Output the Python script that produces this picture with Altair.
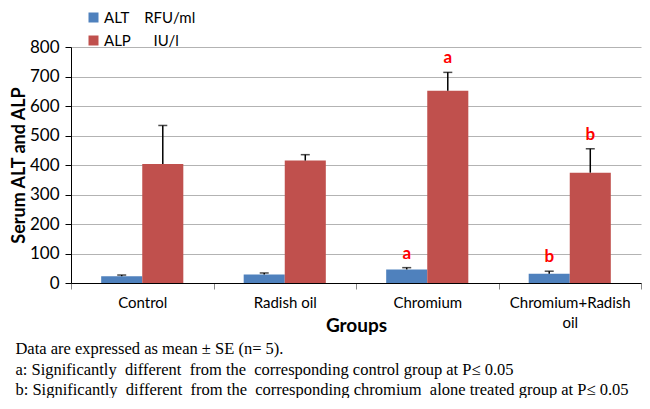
import altair as alt
import pandas as pd

groups = ["Control", "Radish oil", "Chromium", "Chromium+Radish oil"]
series = ["ALT", "ALP"]
alt_mean = [23, 29, 46, 31]
alt_se = [4, 5, 6, 9]
alp_mean = [403, 415, 652, 374]
alp_se = [131, 20, 62, 81]
alt_sig = ["", "", "a", "b"]
alp_sig = ["", "", "a", "b"]
y_ticks = [0, 100, 200, 300, 400, 500, 600, 700, 800]
footnotes = [
    "Data are expressed as mean \u00b1 SE (n= 5).",
    "a: Significantly \u00a0different \u00a0from the \u00a0corresponding control group at P\u2264 0.05",
    "b: Significantly \u00a0different \u00a0from the \u00a0corresponding chromium \u00a0alone treated group at P\u2264 0.05",
]

rows = []
for i, g in enumerate(groups):
    rows.append({"group": g, "series": "ALT", "mean": alt_mean[i], "top": alt_mean[i] + alt_se[i], "sig": alt_sig[i]})
    rows.append({"group": g, "series": "ALP", "mean": alp_mean[i], "top": alp_mean[i] + alp_se[i], "sig": alp_sig[i]})
df = pd.DataFrame(rows)

FONT = "Lato"
BLUE = "#4F81BD"
RED = "#C0504D"

x_axis = alt.Axis(
    title="Groups",
    titleFontSize=19,
    titleFontWeight="bold",
    titleFont=FONT,
    titleColor="black",
    titleY=42,
    titleBaseline="middle",
    labelFont=FONT,
    labelFontSize=15,
    labelColor="black",
    labelAngle=0,
    labelPadding=6,
    labelLineHeight=20,
    labelExpr="datum.label == 'Chromium+Radish oil' ? ['Chromium+Radish', 'oil'] : datum.label",
    tickBand="extent",
    tickSize=6,
    tickColor="#888888",
    domainColor="black",
    grid=False,
)
y_axis = alt.Axis(
    values=y_ticks,
    labelOverlap=False,
    title="Serum ALT and ALP",
    titleFont=FONT,
    titleFontSize=18,
    titleFontWeight="bold",
    titleColor="black",
    titlePadding=1,
    labelFont=FONT,
    labelFontSize=17,
    labelColor="black",
    labelPadding=6,
    tickSize=6,
    tickColor="black",
    domainColor="black",
    gridColor="#B3B3B3",
)

x_scale = alt.Scale(paddingInner=0, paddingOuter=0)
y_scale = alt.Scale(domain=[0, 800], nice=False)


def xenc():
    return alt.X("group:N", sort=groups, scale=x_scale, axis=x_axis)


def xoff():
    return alt.XOffset("series:N", sort=series, scale=alt.Scale(paddingInner=0, paddingOuter=0.735))


def yenc(field):
    return alt.Y(field, scale=y_scale, axis=y_axis, title="Serum ALT and ALP")


bars = alt.Chart(df).mark_bar().encode(
    x=xenc(),
    xOffset=xoff(),
    y=yenc("mean:Q"),
    color=alt.Color(
        "series:N",
        scale=alt.Scale(domain=series, range=[BLUE, RED]),
        legend=alt.Legend(
            title=None,
            orient="none",
            legendX=15,
            legendY=-37,
            symbolType="square",
            symbolSize=100,
            symbolStrokeWidth=0,
            labelFont=FONT,
            labelFontSize=15,
            labelColor="black",
            labelOffset=3,
            rowPadding=7,
            labelExpr="datum.label == 'ALT' ? 'ALT\u00a0\u00a0\u00a0\u00a0RFU/ml' : 'ALP\u00a0\u00a0\u00a0\u00a0\u00a0\u00a0IU/l'",
        ),
    ),
)

err = alt.Chart(df).mark_rule(color="black", strokeWidth=1.5).encode(
    x=xenc(),
    xOffset=xoff(),
    y=yenc("mean:Q"),
    y2="top:Q",
)

caps = alt.Chart(df).mark_tick(color="black", thickness=1.5, size=9, orient="horizontal").encode(
    x=xenc(),
    xOffset=xoff(),
    y=yenc("top:Q"),
)

labels = alt.Chart(df).mark_text(
    color="#FF0000", fontWeight="bold", fontSize=17, font=FONT, baseline="alphabetic", dy=-9
).encode(
    x=xenc(),
    xOffset=xoff(),
    y=yenc("top:Q"),
    text="sig:N",
)

chart = (
    alt.layer(bars, err, caps, labels)
    .properties(
        width=570,
        height=236,
        autosize=alt.AutoSizeParams(type="none"),
        padding={"left": 63, "top": 39, "right": 1, "bottom": 115},
        title=alt.TitleParams(
            text=footnotes,
            orient="bottom",
            anchor="start",
            frame="bounds",
            font="Liberation Serif",
            fontSize=16.5,
            fontWeight="normal",
            color="black",
            lineHeight=20.5,
            offset=6,
            dx=5,
        ),
    )
    .configure_view(stroke=None)
)

chart.save("out.html", embed_options={"renderer": "svg", "actions": False})
